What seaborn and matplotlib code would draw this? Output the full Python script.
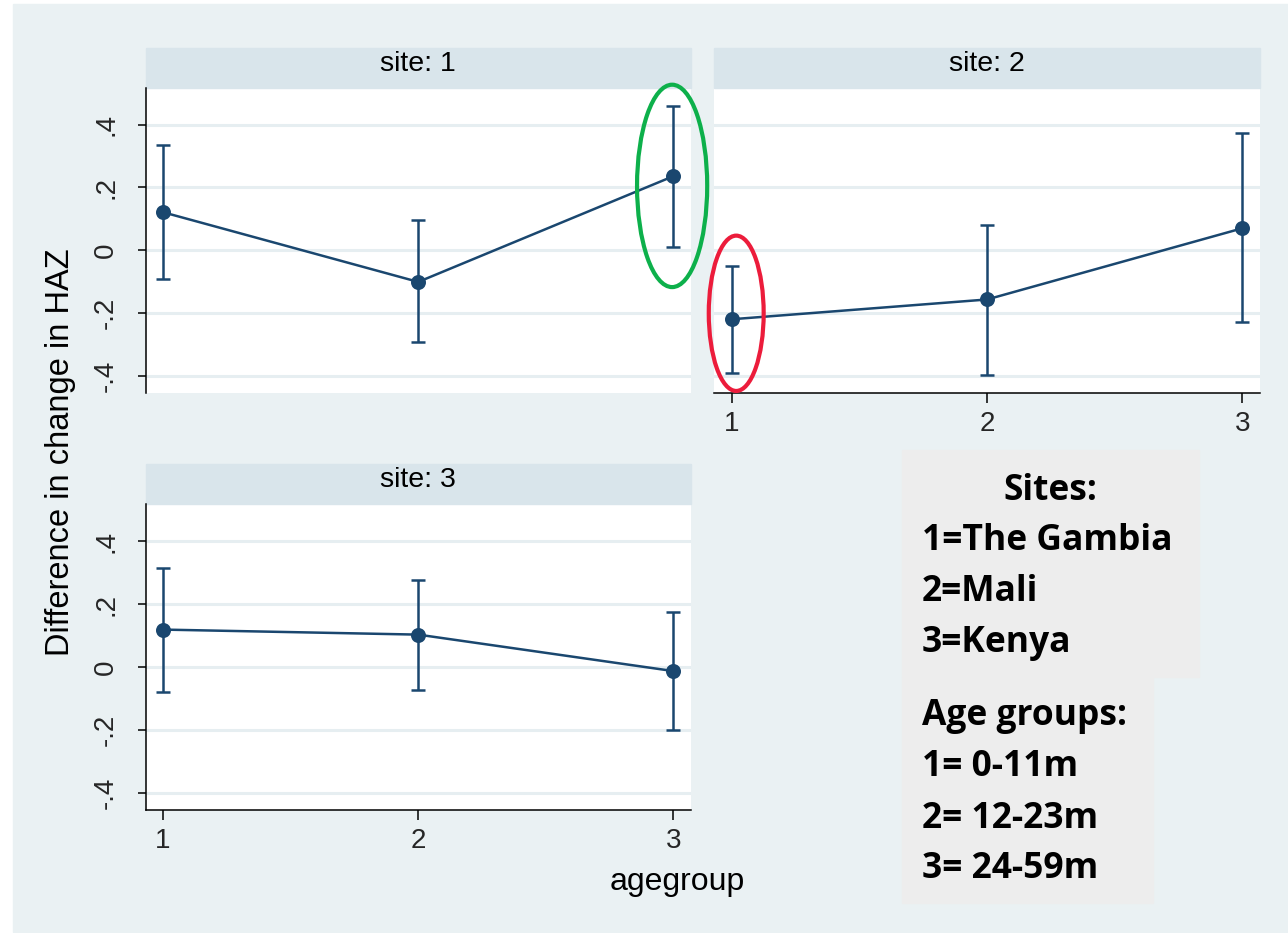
import numpy as np
import pandas as pd
import matplotlib
matplotlib.use("Agg")
import matplotlib.pyplot as plt
from matplotlib.patches import Rectangle, Ellipse
import seaborn as sns

# ---- data: estimate and 95% CI by site and age group ----
sites = [1, 2, 3]
agegroups = [1, 2, 3]
site1_est = [0.121, -0.101, 0.236]
site1_lo = [-0.092, -0.294, 0.010]
site1_hi = [0.334, 0.096, 0.461]
site2_est = [-0.220, -0.157, 0.070]
site2_lo = [-0.391, -0.397, -0.230]
site2_hi = [-0.050, 0.080, 0.372]
site3_est = [0.119, 0.103, -0.013]
site3_lo = [-0.078, -0.073, -0.202]
site3_hi = [0.316, 0.278, 0.175]

yticks = [-0.4, -0.2, 0.0, 0.2, 0.4]
ytick_labels = ["-.4", "-.2", "0", ".2", ".4"]
xtick_labels = ["1", "2", "3"]
strip_labels = ["site: 1", "site: 2", "site: 3"]
key_sites_title = "Sites:"
key_sites = ["1=The Gambia", "2=Mali", "3=Kenya"]
key_age_title = "Age groups:"
key_age = ["1= 0-11m", "2= 12-23m", "3= 24-59m"]

rows = []
for s, est, lo, hi in zip(sites, [site1_est, site2_est, site3_est],
                          [site1_lo, site2_lo, site3_lo],
                          [site1_hi, site2_hi, site3_hi]):
    for a, e, l, h in zip(agegroups, est, lo, hi):
        rows.append({"site": s, "agegroup": a, "est": e, "lo": l, "hi": h})
df = pd.DataFrame(rows)

# ---- style ----
sns.set_style("white")
plt.rcParams["font.family"] = ["Liberation Sans", "DejaVu Sans"]

NAVY = "#1A476F"
BG = "#EAF1F3"
STRIP = "#D9E5EB"
GRID = "#E6EEF1"
KEYBOX = "#EDEDED"

W, H = 1288, 933
fig = plt.figure(figsize=(W / 100, H / 100), dpi=100, facecolor="white")


def fx(x):
    return x / W


def fy(y):
    return 1 - y / H


# outer graph region (kept underneath the panels)
fig.patches.append(Rectangle((fx(13), fy(932)), fx(1288 - 13), (932 - 4) / H,
                             transform=fig.transFigure, color=BG, zorder=-10))

# panel rectangles in pixels: (left, top, right, bottom)
panels = {
    1: (145.5, 88, 691, 393),
    2: (714, 88, 1260, 393),
    3: (145.5, 504.5, 691, 810),
}
STRIP_H = 40.5

axes = {}
for s in sites:
    l, t, r, b = panels[s]
    ax = fig.add_axes([fx(l), fy(b), (r - l) / W, (b - t) / H])
    axes[s] = ax

for s in sites:
    ax = axes[s]
    l, t, r, b = panels[s]
    ph = b - t
    sub = df[df["site"] == s]
    ax.set_facecolor("white")

    ax.errorbar(sub["agegroup"], sub["est"],
                yerr=[sub["est"] - sub["lo"], sub["hi"] - sub["est"]],
                fmt="none", ecolor=NAVY, elinewidth=1.8, capsize=5.3,
                capthick=1.8, zorder=3)
    sns.lineplot(data=sub, x="agegroup", y="est", ax=ax, color=NAVY,
                 lw=1.8, marker="o", markersize=10.8, markeredgewidth=0,
                 errorbar=None, legend=False, zorder=4)

    ax.set_xlim(0.931, 3.069)
    ax.set_ylim(-0.455, 0.517)
    ax.set_xticks(agegroups)
    ax.set_xticklabels(xtick_labels)
    ax.set_yticks(yticks)
    ax.set_yticklabels(ytick_labels, rotation=90, va="center")
    ax.set_xlabel("")
    ax.set_ylabel("")
    ax.yaxis.grid(True, color=GRID, lw=2.2)
    ax.xaxis.grid(False)
    ax.set_axisbelow(True)

    for sp in ax.spines.values():
        sp.set_visible(False)
        sp.set_color("black")
        sp.set_linewidth(1.1)

    show_left = s in (1, 3)
    show_bottom = s in (2, 3)
    ax.spines["left"].set_visible(show_left)
    ax.spines["bottom"].set_visible(show_bottom)
    ax.tick_params(axis="y", left=show_left, labelleft=show_left,
                   length=6, width=1.1, color="black", pad=13,
                   labelsize=20)
    ax.tick_params(axis="x", bottom=show_bottom, labelbottom=show_bottom,
                   length=7, width=1.1, color="black", pad=6,
                   labelsize=20)

    # facet strip
    ax.add_patch(Rectangle((0, 1), 1, STRIP_H / ph, transform=ax.transAxes,
                           color=STRIP, clip_on=False, zorder=1))
    ax.text(0.5, 1 + 17 / ph, strip_labels[s - 1], transform=ax.transAxes,
            ha="center", va="baseline", fontsize=20.5, color="black")

# highlighted estimates
axes[1].add_patch(Ellipse((2.995, 0.205), 0.275, 0.645, fill=False,
                          edgecolor="#0DB04B", lw=3.0, clip_on=False,
                          zorder=6))
axes[2].add_patch(Ellipse((1.018, -0.201), 0.215, 0.495, fill=False,
                          edgecolor="#EC1C3B", lw=3.0, clip_on=False,
                          zorder=6))

# axis titles
fig.text(fx(61), fy(452), "Difference in change in HAZ", rotation=90,
         ha="center", va="center", fontsize=23.5, color="black")
fig.text(fx(677), fy(882), "agegroup", ha="center", va="center",
         fontsize=23, color="black")

# key boxes
fig.patches.append(Rectangle((fx(902), fy(677)), (1199 - 902) / W,
                             (677 - 449.5) / H, transform=fig.transFigure,
                             color=KEYBOX, zorder=-5))
fig.patches.append(Rectangle((fx(902), fy(903)), (1153 - 902) / W,
                             (903 - 676.5) / H, transform=fig.transFigure,
                             color=KEYBOX, zorder=-5))

key_font = dict(family=["Open Sans", "DejaVu Sans"], fontweight="bold",
                fontsize=25.5, color="black", va="baseline")
fig.text(fx(1050), fy(500), key_sites_title, ha="center", **key_font)
for i, line in enumerate(key_sites):
    fig.text(fx(922), fy(550.5 + 50.7 * i), line, ha="left", **key_font)
fig.text(fx(922), fy(725), key_age_title, ha="left", **key_font)
for i, line in enumerate(key_age):
    fig.text(fx(922), fy(776.5 + 51 * i), line, ha="left", **key_font)

fig.savefig("out.png", dpi=100, facecolor="white")
